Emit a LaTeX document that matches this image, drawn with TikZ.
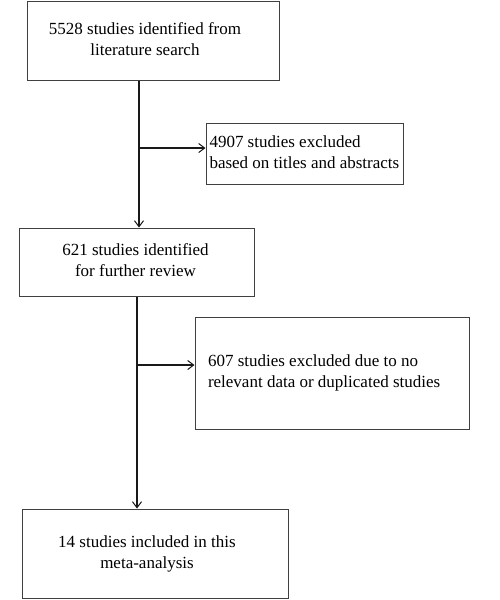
\documentclass[tikz,border=0pt]{standalone}
\usepackage{fontspec}
\setmainfont{Liberation Serif}
\usetikzlibrary{arrows.meta,positioning}
\newcommand{\shiftedlines}[2]{\hspace*{#1}\begin{tabular}{@{}c@{}}#2\end{tabular}}
\newcommand{\leftlines}[3]{\makebox[#1][l]{\hspace*{#2}\begin{tabular}{@{}l@{}}#3\end{tabular}}}
\tikzset{
  box/.style={draw=black!75, line width=1pt, rectangle, inner sep=0pt, font=\fontsize{17}{21}\selectfont},
  flow/.style={line width=1.6pt, black!90},
  tip/.style={-{Straight Barb[length=6pt,width=9pt,line width=1pt]}},
}
\begin{document}
\begin{tikzpicture}[x=1pt,y=-1pt]
\useasboundingbox (0,0) rectangle (500,600);
\node[box, minimum width=252pt, minimum height=79pt] (box1) at (153,40.5)
  {\shiftedlines{-16pt}{5528 studies identified from\\literature search}};
\node[box, minimum width=197pt, minimum height=61pt] (excl1) at (304.5,153.5)
  {\leftlines{197pt}{3.5pt}{4907 studies excluded\\based on titles and abstracts}};
\node[box, minimum width=235pt, minimum height=68pt] (box2) at (136.5,262)
  {\shiftedlines{-2pt}{621 studies identified\\for further review}};
\node[box, minimum width=274pt, minimum height=112pt] (excl2) at (332,373)
  {\raisebox{2pt}{\leftlines{274pt}{13pt}{607 studies excluded due to no\\relevant data or duplicated studies}}};
\node[box, minimum width=266pt, minimum height=89pt] (box3) at (155,553.5)
  {\raisebox{4pt}{\shiftedlines{-16pt}{14 studies included in this\\meta-analysis}}};
\coordinate (s1) at (139,0);
\coordinate (s2) at (137,0);
\coordinate (b1) at (139,148);
\coordinate (b2) at (137,365);
\draw[flow, tip] (s1 |- box1.south) -- (s1 |- box2.north);
\draw[flow, line width=1.2pt, tip] (b1) -- (b1 -| excl1.west);
\draw[flow, line width=1.3pt, tip] (s2 |- box2.south) -- (s2 |- box3.north);
\draw[flow, line width=1.2pt, tip] (b2) -- (b2 -| excl2.west);
\end{tikzpicture}
\end{document}
